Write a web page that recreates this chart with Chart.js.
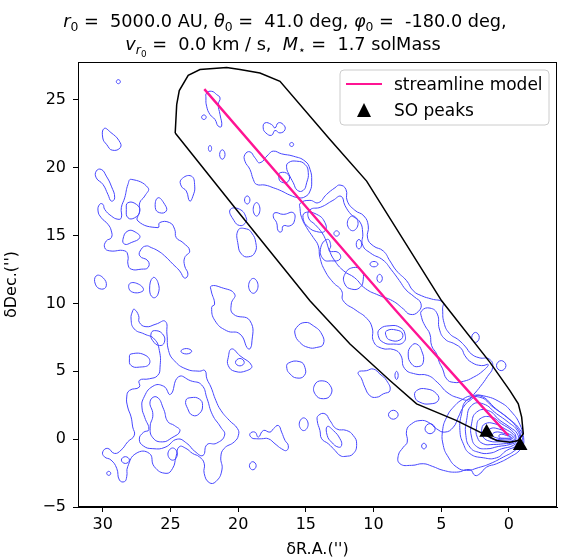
<!DOCTYPE html>
<html>
<head>
<meta charset="utf-8">
<script src="https://cdn.jsdelivr.net/npm/chart.js@4/dist/chart.umd.min.js"></script>
<style>
html, body { margin: 0; padding: 0; background: #fff; }
#wrap { width: 576px; height: 559px; }
</style>
</head>
<body>
<div id="wrap"><canvas id="streamChart"></canvas></div>
<script>
// axis ticks
const xTicks = [30, 25, 20, 15, 10, 5, 0];
const yTicks = [-5, 0, 5, 10, 15, 20, 25];

// streamline model (dRA, dDec) in arcsec
const streamline = [[22.5, 25.8], [8.55, 9.71], [4.36, 5.05], [0.05, 0.27]];

// SO peaks
const soPeaks = [[1.65, 0.5], [-0.83, -0.48]];

// outline of the selection region
const regionOutline = [
    [24.65, 22.57], [24.54, 24.66], [24.35, 25.69], [23.69, 26.82], [22.82, 27.24], [20.85, 27.40],
    [19.87, 27.24], [18.39, 26.99], [16.91, 26.38], [13.22, 22.09], [10.51, 19.02], [4.97, 10.20],
    [1.40, 5.66], [-0.07, 3.58], [-0.69, 2.6], [-0.94, 1.62], [-1.06, 0.4], [-0.69, -0.1],
    [-0.07, -0.22], [0.91, -0.1], [2.63, 0.76], [3.86, 1.37], [6.82, 2.60], [8.79, 4.32],
    [11.74, 7.01], [14.70, 10.20], [19.87, 16.60], [24.65, 22.57]
];

// contour loops, north-west patch
const contoursNW = [
    [[29.9, 22.9], [29.4, 22.6], [28.8, 22.0], [28.7, 21.5], [29.3, 21.3], [29.7, 21.7], [30.0, 22.2]],
    [[28.7, 26.35], [28.85, 26.5], [29.0, 26.35], [28.85, 26.2]],
    [[30.48, 19.76], [30.11, 19.88], [29.74, 19.39], [29.37, 18.65], [29.12, 17.79], [29.37, 17.55], [29.62, 18.04], [29.99, 18.78], [30.48, 19.26]],
    [[27.9, 19.15], [26.66, 18.53], [26.9, 17.92], [27.27, 17.43], [27.27, 16.82], [27.4, 16.08], [25.92, 15.59], [25.8, 15.96],
     [25.06, 15.96], [24.69, 15.47], [24.57, 14.85], [24.08, 14.49], [23.58, 13.88], [23.95, 13.38], [23.95, 12.77], [23.71, 12.16],
     [23.95, 11.87], [24.32, 12.4], [24.82, 12.9], [25.43, 13.51], [25.92, 13.88], [26.42, 14.12], [26.79, 14.24], [27.16, 14.0],
     [27.27, 13.51], [26.66, 13.14], [26.66, 12.65], [27.16, 12.53], [27.9, 12.53], [28.14, 12.9], [28.14, 13.51], [28.38, 13.88],
     [29.49, 13.88], [29.86, 14.12], [29.74, 14.61], [29.37, 14.85], [29.37, 15.35], [29.62, 15.84], [30.11, 16.32], [30.35, 16.82],
     [30.23, 17.31], [29.99, 17.31], [29.86, 16.94], [29.37, 16.45], [28.88, 16.21], [28.63, 16.32], [28.63, 17.06], [28.38, 17.79], [28.14, 18.78]],
    [[28.14, 17.43], [27.52, 17.31], [27.27, 16.82], [27.64, 16.32], [28.14, 16.32], [28.26, 16.94]],
    [[28.14, 15.35], [27.52, 15.22], [27.27, 14.85], [27.9, 14.49], [28.38, 14.37], [28.51, 14.73]],
    [[25.92, 17.79], [25.43, 17.31], [25.31, 16.82], [25.8, 16.69], [26.12, 17.06]],
    [[24.2, 19.15], [23.46, 19.39], [23.21, 18.65], [23.34, 17.92], [23.58, 17.55], [23.83, 18.29], [24.2, 18.65]],
    [[30.48, 12.04], [29.99, 11.91], [29.74, 11.3], [30.11, 11.06], [30.55, 11.43]],
    [[28.01, 11.47], [27.27, 11.38], [27.03, 10.93], [27.9, 10.88]],
    [[26.29, 11.91], [25.92, 11.54], [25.92, 10.69], [26.29, 10.44], [26.54, 11.06]],
    [[21.99, 11.29], [21.25, 11.18], [20.26, 10.69], [20.51, 9.96], [20.36, 9.22], [19.13, 8.73], [19.0, 7.01], [19.25, 6.65],
     [19.87, 7.75], [20.85, 7.99], [21.71, 8.73], [21.96, 9.71], [21.74, 9.96], [21.99, 10.93]],
    [[20.6, 16.9], [19.9, 16.95], [19.4, 16.3], [19.5, 15.9], [19.9, 15.75], [20.3, 16.1]],
    [[20.0, 15.4], [19.4, 15.5], [19.0, 15.2], [18.7, 14.5], [18.76, 13.76], [19.25, 13.44], [19.74, 13.63], [20.0, 14.3]],
    [[19.23, 11.3], [18.88, 11.85], [18.53, 11.3], [18.88, 10.75]],
    [[20.48, 6.65], [19.87, 6.15], [19.0, 5.42], [19.37, 5.05], [20.24, 5.0], [20.73, 5.42], [20.73, 6.03]],
    [[20.2, 5.66], [19.87, 5.95], [19.55, 5.66], [19.87, 5.4]]
];

// contour loops along the streamer
const contoursStreamer = [
    [[22.33, 25.51], [21.96, 25.64], [21.59, 25.4], [21.34, 25.15], [21.47, 24.66], [21.34, 23.93], [21.22, 23.07], [21.47, 23.07],
     [21.71, 23.56], [22.08, 23.93], [22.33, 24.54], [22.38, 25.15]],
    [[22.7, 23.73], [22.53, 23.9], [22.36, 23.73], [22.53, 23.56]],
    [[22.2, 21.43], [22.08, 21.65], [21.96, 21.43], [22.08, 21.2]],
    [[21.37, 20.98], [21.17, 21.33], [20.97, 20.98], [21.17, 20.63]],
    [[18.02, 23.31], [17.53, 23.19], [17.28, 22.94], [17.04, 23.31], [16.67, 23.19], [16.54, 22.82], [16.91, 22.57], [17.28, 22.75],
     [17.53, 22.4], [17.95, 22.57], [18.15, 22.94]],
    [[16.2, 21.72], [16.05, 21.87], [15.9, 21.72], [16.05, 21.57]],
    [[19.5, 20.98], [19.13, 21.18], [18.76, 20.74], [18.39, 20.37], [17.77, 20.98], [17.4, 21.23], [16.79, 21.03], [15.93, 20.86],
     [15.06, 20.49], [14.69, 19.88], [14.57, 19.02], [14.69, 18.29], [15.06, 17.87], [15.55, 17.8], [16.18, 17.99], [16.79, 18.29],
     [17.4, 18.53], [18.02, 18.73], [18.64, 18.78], [18.88, 19.14], [19.13, 19.88], [19.5, 20.49]],
    [[16.3, 20.37], [15.68, 20.49], [15.06, 20.25], [14.82, 19.64], [14.94, 18.9], [15.19, 18.34], [15.62, 18.34], [15.93, 18.9],
     [16.24, 19.51], [16.42, 20.0]],
    [[16.9, 19.64], [16.3, 19.51], [16.3, 19.0], [16.8, 18.95], [17.0, 19.3]],
    [[15.4, 17.4], [14.7, 17.6], [14.08, 17.43], [13.47, 18.04], [12.85, 18.53], [12.48, 18.73], [12.04, 18.41], [11.94, 17.55],
     [11.38, 16.87], [10.71, 16.45], [10.39, 15.72], [10.44, 14.81], [10.02, 14.25], [9.28, 13.87], [8.79, 13.14], [8.3, 12.41],
     [7.56, 11.68], [7.07, 10.94], [6.45, 10.57], [5.71, 10.33], [4.9, 10.1], [4.9, 9.6], [4.8, 8.6], [4.4, 7.8], [3.7, 7.3],
     [3.2, 6.8], [2.8, 6.3], [2.2, 6.0], [1.45, 5.9], [1.2, 5.3], [1.6, 4.6], [2.1, 3.9], [2.6, 3.3], [3.0, 2.9], [3.6, 3.0],
     [4.5, 3.4], [5.3, 4.2], [6.0, 4.7], [6.9, 4.8], [7.7, 5.2], [8.0, 6.2], [8.5, 6.6], [9.4, 6.7], [10.0, 7.2], [10.1, 8.2],
     [10.5, 8.9], [11.3, 9.5], [12.24, 10.2], [12.36, 10.94], [12.98, 11.55], [13.59, 12.41], [13.96, 13.39], [14.08, 14.25],
     [14.45, 14.86], [14.94, 15.59], [15.31, 16.33], [15.43, 17.0]],
    [[6.45, 9.46], [5.83, 9.66], [5.29, 9.22], [5.14, 8.12], [4.73, 7.38], [3.99, 7.01], [3.5, 6.65], [3.25, 6.15], [2.76, 5.66],
     [2.02, 5.42], [1.53, 5.5], [1.9, 5.05], [2.63, 4.56], [3.37, 4.26], [4.11, 4.19], [4.6, 4.44], [4.9, 5.18], [5.14, 5.66],
     [5.34, 6.28], [5.71, 6.89], [5.84, 7.75], [6.2, 8.36], [6.45, 8.97]],
    [[14.7, 16.9], [13.9, 17.1], [13.0, 17.6], [12.4, 17.9], [12.1, 17.2], [11.6, 16.5], [11.0, 16.0], [10.8, 15.2], [10.8, 14.3],
     [10.2, 13.7], [9.3, 13.2], [8.7, 12.5], [8.1, 11.7], [7.6, 11.0], [7.0, 10.5], [6.5, 10.0], [6.7, 9.4], [7.3, 9.2], [7.8, 9.6],
     [8.6, 10.2], [9.6, 10.6], [10.6, 11.1], [11.4, 11.9], [12.2, 12.4], [12.9, 13.2], [13.3, 14.0], [13.5, 14.6], [13.8, 15.2],
     [14.3, 15.8], [14.8, 16.3]],
    [[15.06, 16.69], [14.2, 16.57], [13.59, 15.96], [13.59, 15.35], [14.2, 15.3], [14.82, 15.64], [15.19, 16.2]],
    [[11.94, 15.91], [11.54, 16.46], [11.14, 15.91], [11.54, 15.36]],
    [[12.93, 15.16], [12.73, 15.36], [12.53, 15.16], [12.73, 14.96]],
    [[11.28, 14.37], [11.08, 14.72], [10.88, 14.37], [11.08, 14.02]],
    [[13.9, 14.12], [13.4, 14.73], [13.16, 14.25], [13.27, 13.88], [12.6, 13.76], [12.48, 13.27], [13.1, 13.14], [13.71, 13.27]],
    [[12.12, 12.16], [11.5, 12.65], [10.89, 12.41], [10.76, 11.8], [11.01, 11.18], [11.62, 11.06], [12.12, 11.43]],
    [[10.27, 12.9], [9.97, 13.1], [9.67, 12.9], [9.97, 12.7]],
    [[9.75, 11.85], [9.55, 12.15], [9.35, 11.85], [9.55, 11.55]],
    [[17.28, 16.69], [16.67, 16.57], [15.93, 16.69], [15.85, 16.08], [16.18, 15.72], [16.67, 15.72], [16.79, 15.3], [17.04, 15.35],
     [17.16, 15.96], [17.4, 16.38]],
    [[19.53, 17.63], [19.33, 17.93], [19.13, 17.63], [19.33, 17.33]],
    [[18.89, 16.94], [18.64, 17.44], [18.39, 16.94], [18.64, 16.44]],
    [[9.53, 8.12], [8.79, 8.36], [8.05, 8.24], [7.68, 7.75], [7.8, 7.13], [8.54, 7.01], [9.28, 7.13], [9.65, 7.63]],
    [[9.03, 7.99], [8.3, 8.04], [7.85, 7.75], [8.05, 7.31], [8.79, 7.31], [9.08, 7.63]],
    [[7.19, 6.89], [6.82, 7.01], [6.45, 6.52], [6.33, 5.66], [6.7, 5.35], [7.19, 5.54], [7.44, 6.28]],
    [[2.75, 7.5], [2.47, 7.87], [2.19, 7.5], [2.47, 7.13]],
    [[0.92, 5.42], [0.57, 5.79], [0.22, 5.42], [0.57, 5.05]]
];

// contour loops, southern field
const contoursSouth = [
    [[15.68, 8.24], [15.07, 8.6], [14.45, 8.36], [13.83, 7.75], [13.71, 7.01], [14.2, 6.76], [14.82, 6.76], [15.44, 7.13], [15.8, 7.75]],
    [[16.3, 5.6], [15.44, 5.71], [15.07, 5.29], [15.12, 4.68], [15.68, 4.51], [16.17, 4.81], [16.4, 5.2]],
    [[14.35, 4.0], [13.8, 4.3], [13.2, 3.95], [13.15, 3.3], [13.7, 2.98], [14.3, 3.3]],
    [[15.49, 1.1], [15.16, 1.57], [14.83, 1.1], [15.16, 0.63]],
    [[14.08, 1.74], [13.59, 1.87], [13.22, 1.37], [12.73, 0.76], [11.99, 0.64], [11.5, 0.27], [11.25, -0.34], [11.5, -1.07],
     [12.11, -1.27], [12.48, -1.2], [12.85, -0.83], [13.34, -0.34], [13.83, 0.03], [13.96, 0.64], [14.16, 1.37]],
    [[13.42, 0.93], [12.97, 0.64], [12.48, 0.03], [12.36, -0.46], [12.6, -0.59], [13.1, -0.22], [13.42, 0.27]],
    [[11.13, 4.93], [10.51, 5.05], [10.02, 5.17], [9.53, 4.8], [9.03, 4.31], [8.79, 3.58], [9.28, 3.34], [9.77, 3.09], [10.27, 3.21],
     [10.64, 3.82], [10.88, 4.44]],
    [[8.9, 1.8], [8.54, 2.13], [8.18, 1.8], [8.54, 1.47]],
    [[8.42, 4.7], [8.3, 5.0], [8.18, 4.7], [8.3, 4.4]],
    [[6.82, 3.58], [6.08, 3.7], [5.34, 3.34], [5.22, 2.85], [5.83, 2.6], [6.57, 2.72], [6.94, 3.09]],
    [[19.13, 0.4], [18.76, 0.52], [18.51, 0.15], [18.14, 0.64], [17.65, 0.52], [17.4, 0.76], [17.04, 1.01], [16.79, 0.52],
     [16.54, -0.09], [16.3, -0.46], [16.42, -0.83], [16.79, -0.71], [17.28, -0.34], [17.77, 0.03], [18.27, 0.03], [18.63, 0.03], [19.0, 0.1]],
    [[19.17, -1.96], [18.92, -1.66], [18.67, -1.96], [18.92, -2.26]],
    [[6.2, 0.76], [5.83, 1.15], [5.45, 0.76], [5.83, 0.4]],
    [[6.45, -0.51], [6.28, -0.3], [6.1, -0.51], [6.28, -0.72]]
];

// contour loops round the compact source, outer to inner
const contoursCore = [
    [[8.17, -1.2], [7.8, -0.59], [7.51, -0.22], [7.56, 0.64], [7.19, 1.13], [6.57, 1.37], [5.96, 1.25], [5.34, 0.76], [4.73, 0.52],
     [4.11, 0.88], [3.74, 1.62], [3.37, 2.35], [2.88, 2.85], [2.14, 3.2], [0.91, 2.2], [-0.07, 1.45], [-0.81, 0.7], [-1.1, -0.1],
     [-0.85, -0.75], [-0.07, -1.32], [0.91, -1.81], [1.65, -2.06], [2.14, -2.54], [2.51, -2.67], [2.88, -2.25], [3.86, -2.43],
     [4.85, -2.3], [5.66, -2.0], [6.33, -1.81], [7.19, -1.93], [8.05, -1.81]],
    [[3.37, 2.97], [4.11, 2.35], [4.6, 1.62], [4.9, 0.64], [4.85, -0.46], [4.48, -1.32], [3.86, -2.06], [3.13, -2.3], [2.26, -2.1],
     [1.4, -1.81], [0.42, -1.32], [-0.44, -0.83], [-0.9, -0.3], [-1.0, 0.3], [-0.8, 1.1], [-0.2, 2.0], [0.6, 2.7], [1.9, 3.2], [2.75, 3.2]],
    [[3.13, 2.85], [2.14, 3.09], [1.16, 2.35], [0.17, 1.62], [-0.57, 0.88], [-0.86, 0.15], [-0.57, -0.46], [0.17, -0.83], [0.91, -1.37],
     [1.9, -1.37], [2.88, -1.07], [3.37, -0.34], [3.62, 0.64], [3.5, 1.87]],
    [[2.76, 2.48], [1.9, 2.6], [0.91, 1.87], [0.05, 1.25], [-0.62, 0.64], [-0.76, 0.03], [-0.32, -0.46], [0.54, -0.71], [1.4, -1.03],
     [2.26, -0.96], [2.88, -0.59], [3.18, 0.27], [3.13, 1.38]],
    [[2.39, 1.99], [1.53, 2.11], [0.66, 1.38], [-0.07, 0.88], [-0.62, 0.4], [-0.62, -0.1], [-0.07, -0.39], [0.79, -0.54], [1.65, -0.71],
     [2.39, -0.54], [2.76, 0.15], [2.76, 1.13]],
    [[2.14, 1.5], [1.28, 1.62], [0.54, 1.13], [-0.2, 0.64], [-0.52, 0.15], [-0.32, -0.22], [0.42, -0.34], [1.16, -0.39], [1.9, -0.34],
     [2.34, 0.15], [2.39, 0.88]],
    [[1.77, 1.13], [1.03, 1.13], [0.3, 0.76], [-0.32, 0.35], [-0.44, 0.03], [-0.07, -0.15], [0.66, -0.19], [1.4, -0.15], [1.9, 0.15], [2.02, 0.64]],
    [[1.4, 0.76], [0.79, 0.76], [0.12, 0.44], [-0.32, 0.15], [-0.07, -0.04], [0.66, -0.04], [1.28, 0.03], [1.6, 0.35]],
    [[1.03, 0.51], [0.42, 0.44], [-0.07, 0.22], [-0.2, 0.07], [0.3, 0.03], [0.91, 0.1], [1.21, 0.27]],
    [[0.66, 0.35], [0.17, 0.27], [-0.12, 0.12], [0.3, 0.07], [0.71, 0.15]]
];

// contour loops, south-west patch
const contoursSW = [
    [[27.67, 9.58], [27.35, 9.10], [27.30, 8.61], [26.81, 8.29], [26.07, 8.48], [25.38, 8.68], [25.26, 7.75], [25.14, 6.53],
     [24.72, 5.79], [23.86, 5.18], [22.87, 5.01], [22.46, 5.06], [22.31, 4.45], [22.01, 3.84], [21.65, 2.86], [21.28, 2.13],
     [20.66, 1.39], [20.05, 0.78], [19.98, 0.29], [20.29, -0.20], [21.03, -0.68], [21.28, -1.30], [21.20, -2.27], [21.65, -3.13],
     [22.14, -3.20], [22.51, -2.52], [22.51, -1.78], [22.87, -1.30], [23.37, -1.05], [23.86, -0.68], [24.35, -0.56], [24.59, -1.30],
     [24.84, -2.15], [25.33, -2.52], [26.19, -2.03], [26.56, -1.05], [27.54, -1.05], [28.16, -2.03], [28.23, -2.76], [28.40, -3.13],
     [28.77, -3.01], [28.97, -2.15], [29.39, -1.54], [29.88, -1.30], [30.0, -0.93], [29.63, -0.68], [29.14, -1.05], [28.65, -0.81],
     [28.16, -0.20], [27.67, 0.29], [27.79, 0.90], [27.91, 1.64], [28.16, 2.37], [28.23, 3.11], [28.03, 3.59], [27.30, 3.84],
     [27.30, 4.33], [26.56, 4.45], [25.95, 4.69], [25.77, 5.31], [25.82, 6.53], [26.19, 7.38], [26.93, 7.75], [27.67, 8.12],
     [27.91, 8.85], [27.79, 9.46]],
    [[27.0, 3.0], [26.3, 3.9], [25.5, 3.9], [25.0, 3.3], [24.4, 4.6], [23.5, 4.3], [22.7, 4.0], [22.3, 3.0], [21.9, 1.8], [21.3, 0.9],
     [21.0, 0.3], [21.6, -0.3], [22.3, -0.4], [22.6, -1.2], [23.2, -0.9], [23.8, -0.3], [24.5, 0.0], [25.4, -0.6], [26.3, -0.7],
     [27.0, -0.5], [27.3, 0.0], [27.0, 0.5], [26.6, 0.7], [26.9, 1.6], [27.1, 2.3]],
    [[26.5, 2.8], [26.0, 3.1], [25.5, 2.2], [25.2, 1.3], [24.7, 1.0], [24.3, 0.6], [24.9, 0.1], [25.6, -0.2], [26.3, 0.1], [26.5, 0.9], [26.3, 1.8]],
    [[23.86, 2.86], [23.49, 3.06], [22.87, 2.96], [22.63, 2.49], [22.87, 1.88], [23.37, 1.76], [23.73, 2.25]],
    [[27.91, 6.28], [26.81, 6.16], [26.56, 5.55], [27.3, 5.31], [27.91, 5.43], [28.03, 5.92]],
    [[26.19, 8.0], [25.58, 7.75], [25.45, 7.14], [25.82, 6.9], [26.31, 7.26], [26.44, 7.75]],
    [[24.23, 6.48], [23.83, 6.68], [23.43, 6.48], [23.83, 6.28]],
    [[25.19, -1.1], [24.84, -0.65], [24.49, -1.1], [24.84, -1.55]],
    [[28.63, -1.54], [28.33, -1.29], [28.03, -1.54], [28.33, -1.79]],
    [[29.71, -2.52], [29.56, -2.37], [29.41, -2.52], [29.56, -2.67]]
];

const contourBlue = "#4646ff";
const toPoints = pts => pts.map(([x, y]) => ({ x: x, y: y }));

// close each loop by running past its start, so the join is smooth too
const contourSets = [];
[contoursNW, contoursStreamer, contoursSouth, contoursCore, contoursSW].forEach(group => {
    group.forEach(loop => {
        contourSets.push({
            label: "contour",
            data: toPoints([loop[loop.length - 1]].concat(loop, [loop[0], loop[1]])),
            segment: {
                borderColor: ctx => (ctx.p0DataIndex === 0 || ctx.p1DataIndex === loop.length + 2) ? "rgba(0,0,0,0)" : contourBlue
            },
            showLine: true,
            borderColor: contourBlue,
            borderWidth: 1,
            pointRadius: 0,
            tension: 0.5,
            fill: false
        });
    });
});

function drawRuns(ctx, runs, cx, baseline, size) {
    const fam = "'DejaVu Sans', sans-serif";
    const spec = kind => {
        if (kind === "n") return { font: size + "px " + fam, dy: 0 };
        if (kind === "i") return { font: "italic " + size + "px " + fam, dy: 0 };
        if (kind === "s") return { font: (size * 0.7) + "px " + fam, dy: size * 0.22 };
        if (kind === "si") return { font: "italic " + (size * 0.7) + "px " + fam, dy: size * 0.22 };
        return { font: (size * 0.5) + "px " + fam, dy: size * 0.38 };
    };
    let total = 0;
    const widths = runs.map(([t, k]) => {
        ctx.font = spec(k).font;
        const w = ctx.measureText(t).width;
        total += w;
        return w;
    });
    let x = cx - total / 2;
    ctx.textBaseline = "alphabetic";
    ctx.textAlign = "left";
    runs.forEach(([t, k], i) => {
        const s = spec(k);
        ctx.font = s.font;
        ctx.fillText(t, x, baseline + s.dy);
        x += widths[i];
    });
}

const decorations = {
    id: "decorations",
    afterDraw(chart) {
        const ctx = chart.ctx;
        const a = chart.chartArea;
        ctx.save();
        ctx.strokeStyle = "#000";
        ctx.lineWidth = 1;
        ctx.strokeRect(a.left + 0.5, a.top + 0.5, a.right - a.left - 1, a.bottom - a.top - 1);

        ctx.fillStyle = "#000";
        drawRuns(ctx, [["r", "i"], ["0", "s"], [" =  5000.0 AU, ", "n"], ["θ", "i"], ["0", "s"], [" =  41.0 deg, ", "n"],
            ["φ", "i"], ["0", "s"], [" =  -180.0 deg,", "n"]], 285, 27, 17.7);
        drawRuns(ctx, [["v", "i"], ["r", "si"], ["0", "ss"], [" =  0.0 km / s,  ", "n"], ["M", "i"], ["⋆", "s"],
            [" =  1.7 solMass", "n"]], 283, 50, 17.7);

        ctx.font = "16px 'DejaVu Sans', sans-serif";
        ctx.textAlign = "center";
        ctx.fillText("δR.A.('')", (a.left + a.right) / 2, 554);
        ctx.save();
        ctx.translate(16, (a.top + a.bottom) / 2);
        ctx.rotate(-Math.PI / 2);
        ctx.fillText("δDec.('')", 0, 0);
        ctx.restore();

        // legend
        const bx = 340, by = 70, bw = 209, bh = 55, r = 4;
        ctx.beginPath();
        ctx.moveTo(bx + r, by);
        ctx.arcTo(bx + bw, by, bx + bw, by + bh, r);
        ctx.arcTo(bx + bw, by + bh, bx, by + bh, r);
        ctx.arcTo(bx, by + bh, bx, by, r);
        ctx.arcTo(bx, by, bx + bw, by, r);
        ctx.closePath();
        ctx.fillStyle = "rgba(255,255,255,0.8)";
        ctx.fill();
        ctx.strokeStyle = "#cccccc";
        ctx.lineWidth = 1;
        ctx.stroke();

        ctx.strokeStyle = "#ff1493";
        ctx.lineWidth = 2.2;
        ctx.beginPath();
        ctx.moveTo(346, 84);
        ctx.lineTo(382, 84);
        ctx.stroke();

        ctx.fillStyle = "#000";
        ctx.beginPath();
        ctx.moveTo(364, 103);
        ctx.lineTo(371, 117);
        ctx.lineTo(357, 117);
        ctx.closePath();
        ctx.fill();

        ctx.textAlign = "left";
        ctx.font = "17px 'DejaVu Sans', sans-serif";
        ctx.fillText("streamline model", 394, 90);
        ctx.fillText("SO peaks", 394, 116);
        ctx.restore();
    }
};

const tickFont = { family: "'DejaVu Sans', sans-serif", size: 16 };
const minusSign = v => String(v).replace("-", "\u2212");

new Chart(document.getElementById("streamChart"), {
    type: "scatter",
    data: {
        datasets: [
            {
                label: "SO peaks",
                data: toPoints(soPeaks),
                pointStyle: "triangle",
                pointRadius: 8.5,
                backgroundColor: "#000",
                borderColor: "#000",
                borderWidth: 0,
                showLine: false
            },
            {
                label: "streamline model",
                data: toPoints(streamline),
                showLine: true,
                borderColor: "#ff1493",
                borderWidth: 2.4,
                pointRadius: 0,
                tension: 0.2
            },
            {
                label: "region",
                data: toPoints(regionOutline),
                showLine: true,
                borderColor: "#000",
                borderWidth: 1.5,
                pointRadius: 0,
                tension: 0
            },
            ...contourSets
        ]
    },
    options: {
        responsive: true,
        maintainAspectRatio: false,
        animation: false,
        devicePixelRatio: 1,
        layout: { padding: { top: 62, right: 19, left: 0, bottom: 0 } },
        plugins: {
            legend: { display: false },
            tooltip: { enabled: false },
            title: { display: false }
        },
        scales: {
            x: {
                type: "linear",
                min: -3.55,
                max: 31.83,
                reverse: true,
                afterBuildTicks: s => { s.ticks = xTicks.map(v => ({ value: v })); },
                afterFit: s => { s.height = 52; },
                grid: { drawOnChartArea: false, tickLength: 5, color: "#000" },
                border: { color: "#000" },
                ticks: { color: "#000", font: tickFont, padding: 3, autoSkip: false, maxRotation: 0, callback: minusSign }
            },
            y: {
                type: "linear",
                min: -5,
                max: 27.8,
                afterBuildTicks: s => { s.ticks = yTicks.map(v => ({ value: v })); },
                afterFit: s => { s.width = 78; },
                grid: { drawOnChartArea: false, tickLength: 5, color: "#000" },
                border: { color: "#000" },
                ticks: { color: "#000", font: tickFont, padding: 7, autoSkip: false, callback: minusSign }
            }
        }
    },
    plugins: [decorations]
});
</script>
</body>
</html>
